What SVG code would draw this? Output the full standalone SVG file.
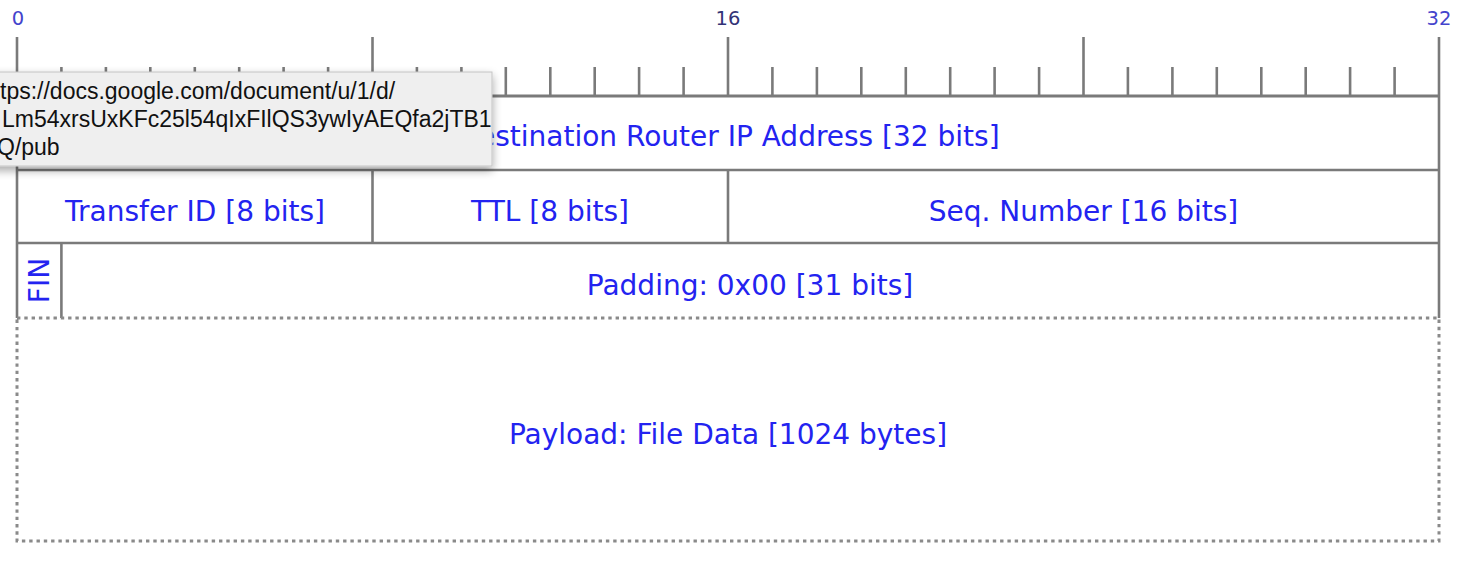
<svg xmlns="http://www.w3.org/2000/svg" width="1472" height="568" viewBox="0 0 1472 568">
<style>
.ln{stroke:#7a7a7a;stroke-width:2.6;fill:none}
.tk{stroke:#7a7a7a;stroke-width:2.6}
.dot{stroke:#8a8a8a;stroke-width:3;fill:none;stroke-dasharray:3.4 3.9}
.lbl{font-family:"DejaVu Sans",sans-serif;font-size:28px;fill:#2323f0;text-anchor:middle}
.num{font-family:"DejaVu Sans",sans-serif;font-size:19.5px;text-anchor:middle}
.tip{font-family:"Liberation Sans",Arial,sans-serif;font-size:23px;fill:#111}
</style>
<defs>
<filter id="sh" x="-10%" y="-30%" width="130%" height="170%">
<feGaussianBlur in="SourceAlpha" stdDeviation="5"/>
<feOffset dx="0" dy="4"/>
<feComponentTransfer><feFuncA type="linear" slope="0.35"/></feComponentTransfer>
<feMerge><feMergeNode/><feMergeNode in="SourceGraphic"/></feMerge>
</filter>
</defs>
<rect width="1472" height="568" fill="#ffffff"/>
<g id="ruler">
<text class="num" x="18" y="25" fill="#4444cc">0</text>
<text class="num" x="728" y="25" fill="#333377">16</text>
<text class="num" x="1439" y="25" fill="#4444cc">32</text>
<g class="tk">
<line x1="17" y1="37" x2="17" y2="96"/>
<line x1="61.4" y1="67" x2="61.4" y2="96"/>
<line x1="105.9" y1="67" x2="105.9" y2="96"/>
<line x1="150.3" y1="67" x2="150.3" y2="96"/>
<line x1="194.8" y1="67" x2="194.8" y2="96"/>
<line x1="239.2" y1="67" x2="239.2" y2="96"/>
<line x1="283.6" y1="67" x2="283.6" y2="96"/>
<line x1="328.1" y1="67" x2="328.1" y2="96"/>
<line x1="372.5" y1="37" x2="372.5" y2="96"/>
<line x1="416.9" y1="67" x2="416.9" y2="96"/>
<line x1="461.4" y1="67" x2="461.4" y2="96"/>
<line x1="505.8" y1="67" x2="505.8" y2="96"/>
<line x1="550.3" y1="67" x2="550.3" y2="96"/>
<line x1="594.7" y1="67" x2="594.7" y2="96"/>
<line x1="639.1" y1="67" x2="639.1" y2="96"/>
<line x1="683.6" y1="67" x2="683.6" y2="96"/>
<line x1="728" y1="37" x2="728" y2="96"/>
<line x1="772.4" y1="67" x2="772.4" y2="96"/>
<line x1="816.9" y1="67" x2="816.9" y2="96"/>
<line x1="861.3" y1="67" x2="861.3" y2="96"/>
<line x1="905.8" y1="67" x2="905.8" y2="96"/>
<line x1="950.2" y1="67" x2="950.2" y2="96"/>
<line x1="994.6" y1="67" x2="994.6" y2="96"/>
<line x1="1039.1" y1="67" x2="1039.1" y2="96"/>
<line x1="1083.5" y1="37" x2="1083.5" y2="96"/>
<line x1="1127.9" y1="67" x2="1127.9" y2="96"/>
<line x1="1172.4" y1="67" x2="1172.4" y2="96"/>
<line x1="1216.8" y1="67" x2="1216.8" y2="96"/>
<line x1="1261.3" y1="67" x2="1261.3" y2="96"/>
<line x1="1305.7" y1="67" x2="1305.7" y2="96"/>
<line x1="1350.1" y1="67" x2="1350.1" y2="96"/>
<line x1="1394.6" y1="67" x2="1394.6" y2="96"/>
<line x1="1439" y1="37" x2="1439" y2="96"/>
</g>
</g>
<g id="row1">
<line class="ln" x1="17" y1="96" x2="1439" y2="96" style="stroke-width:3.2"/>
<line class="ln" x1="17" y1="96" x2="17" y2="170"/>
<line class="ln" x1="1439" y1="96" x2="1439" y2="170"/>
<line class="ln" x1="17" y1="170" x2="1439" y2="170"/>
<text class="lbl" x="728" y="146">Destination Router IP Address [32 bits]</text>
</g>
<g id="row2">
<line class="ln" x1="17" y1="170" x2="17" y2="243"/>
<line class="ln" x1="372.5" y1="170" x2="372.5" y2="243"/>
<line class="ln" x1="728" y1="170" x2="728" y2="243"/>
<line class="ln" x1="1439" y1="170" x2="1439" y2="243"/>
<line class="ln" x1="17" y1="243" x2="1439" y2="243"/>
<text class="lbl" x="195" y="221">Transfer ID [8 bits]</text>
<text class="lbl" x="550" y="221">TTL [8 bits]</text>
<text class="lbl" x="1083.5" y="221">Seq. Number [16 bits]</text>
</g>
<g id="row3">
<line class="ln" x1="17" y1="243" x2="17" y2="318"/>
<line class="ln" x1="61.4" y1="243" x2="61.4" y2="318"/>
<line class="ln" x1="1439" y1="243" x2="1439" y2="318"/>
<text class="lbl" transform="translate(49,280.5) rotate(-90)" x="0" y="0">FIN</text>
<text class="lbl" x="750" y="295">Padding: 0x00 [31 bits]</text>
</g>
<g id="payload">
<rect class="dot" x="17" y="318" width="1422" height="223"/>
<text class="lbl" x="728" y="444">Payload: File Data [1024 bytes]</text>
</g>
<g id="tooltip">
<rect x="-10" y="72" width="502" height="94" fill="#efefef" stroke="#c4c4c4" stroke-width="1" filter="url(#sh)"/>
<text class="tip" x="0" y="99">tps://docs.google.com/document/u/1/d/</text>
<text class="tip" x="2" y="127">Lm54xrsUxKFc25l54qIxFIlQS3ywIyAEQfa2jTB1</text>
<text class="tip" x="-3" y="155">Q/pub</text>
</g>
</svg>
